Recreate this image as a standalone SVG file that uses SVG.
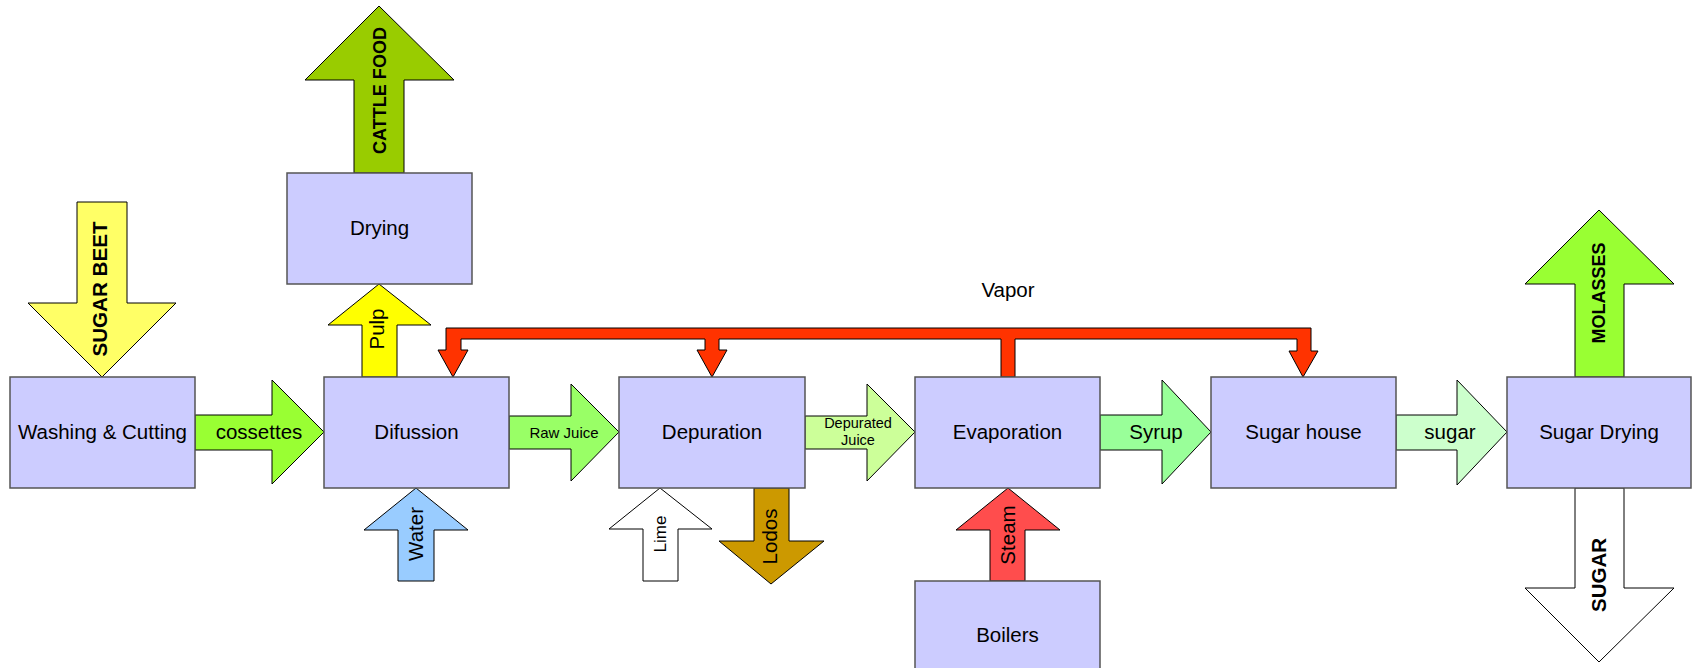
<svg xmlns="http://www.w3.org/2000/svg" width="1692" height="668" viewBox="0 0 1692 668">
  <style>
    .box { fill: #CCCCFF; stroke: #555555; stroke-width: 1.5; }
    .arr { stroke: #000000; stroke-width: 1; stroke-linejoin: miter; }
    .lbl { font-family: "Liberation Sans", Arial, sans-serif; font-size: 20.5px; fill: #000000; text-anchor: middle; }
    .sm { font-size: 15px; }
    .xs { font-size: 14.5px; }
    .bold { font-weight: bold; }
  </style>
  <rect width="1692" height="668" fill="#FFFFFF"/>

  <!-- flows between process units -->
  <g id="connectors">
    <!-- raw material in -->
    <polygon class="arr" fill="#FFFF66" points="77,202 127,202 127,303 176,303 102,377 28,303 77,303"/>
    <text class="lbl bold" transform="translate(107,289) rotate(-90)" textLength="135" lengthAdjust="spacingAndGlyphs">SUGAR BEET</text>

    <!-- cattle food out of drying -->
    <polygon class="arr" fill="#99CC00" points="379,6 454,80 404,80 404,173 354,173 354,80 305,80"/>
    <text class="lbl bold" style="font-size:18px" transform="translate(385.5,90.5) rotate(-90)" textLength="127" lengthAdjust="spacingAndGlyphs">CATTLE FOOD</text>

    <!-- pulp to drying -->
    <polygon class="arr" fill="#FFFF00" points="379,284 431,325 397,325 397,377 362,377 362,325 328,325"/>
    <text class="lbl" transform="translate(383.5,329) rotate(-90)">Pulp</text>

    <!-- horizontal process line -->
    <polygon class="arr" fill="#99FF33" points="195,415 272,415 272,380 324,432 272,484 272,450 195,450"/>
    <text class="lbl" x="259" y="439">cossettes</text>

    <polygon class="arr" fill="#99FF66" points="509,416 571,416 571,384 619,432 571,481 571,449 509,449"/>
    <text class="lbl sm" x="564" y="438">Raw Juice</text>

    <polygon class="arr" fill="#CCFF99" points="805,416 867,416 867,384 915,432 867,481 867,449 805,449"/>
    <text class="lbl xs" x="858" y="428">Depurated</text>
    <text class="lbl xs" x="858" y="445">Juice</text>

    <polygon class="arr" fill="#99FF99" points="1100,415 1162,415 1162,380 1211,432 1162,484 1162,450 1100,450"/>
    <text class="lbl" x="1156" y="439">Syrup</text>

    <polygon class="arr" fill="#CCFFCC" points="1396,415 1457,415 1457,380 1507,432 1457,485 1457,450 1396,450"/>
    <text class="lbl" x="1450" y="439">sugar</text>

    <!-- inputs and outputs below -->
    <polygon class="arr" fill="#99CCFF" points="416,488 468,530 434,530 434,581 398,581 398,530 364,530"/>
    <text class="lbl" transform="translate(423,534) rotate(-90)">Water</text>

    <polygon class="arr" fill="#FFFFFF" points="660,488 712,529 678,529 678,581 643,581 643,529 609,529"/>
    <text class="lbl" style="font-size:17px" transform="translate(666,534) rotate(-90)">Lime</text>

    <polygon class="arr" fill="#CC9900" points="754,488 789,488 789,541 824,541 771,584 719,541 754,541"/>
    <text class="lbl" transform="translate(777,536.5) rotate(-90)">Lodos</text>

    <polygon class="arr" fill="#FF4D4D" points="1008,488 1060,530 1025,530 1025,581 990,581 990,530 956,530"/>
    <text class="lbl" transform="translate(1014.5,535) rotate(-90)">Steam</text>

    <!-- final products -->
    <polygon class="arr" fill="#99FF33" points="1599,210 1674,284 1624,284 1624,377 1575,377 1575,284 1525,284"/>
    <text class="lbl bold" style="font-size:18px" transform="translate(1604.5,293) rotate(-90)" textLength="101" lengthAdjust="spacingAndGlyphs">MOLASSES</text>

    <polygon class="arr" fill="#FFFFFF" points="1575,488 1624,488 1624,588 1674,588 1599,662 1525,588 1575,588"/>
    <text class="lbl bold" transform="translate(1606,575) rotate(-90)" textLength="74" lengthAdjust="spacingAndGlyphs">SUGAR</text>

    <!-- vapor distribution header from evaporation -->
    <polygon class="arr" fill="#FF3300" points="446,328 1311,328 1311,351 1318,351 1303,377 1289,351 1297,351 1297,339 1015,339 1015,377 1001,377 1001,339 719,339 719,350 727,350 712,377 697,350 705,350 705,339 461,339 461,350 468,350 453,377 438,350 446,350"/>
    <text class="lbl" x="1008" y="297">Vapor</text>
  </g>

  <!-- process units -->
  <g id="washing">
    <rect class="box" x="10" y="377" width="185" height="111"/>
    <text class="lbl" x="102.5" y="439">Washing &amp; Cutting</text>
  </g>
  <g id="difussion">
    <rect class="box" x="324" y="377" width="185" height="111"/>
    <text class="lbl" x="416.5" y="439">Difussion</text>
  </g>
  <g id="drying">
    <rect class="box" x="287" y="173" width="185" height="111"/>
    <text class="lbl" x="379.5" y="235">Drying</text>
  </g>
  <g id="depuration">
    <rect class="box" x="619" y="377" width="186" height="111"/>
    <text class="lbl" x="712" y="439">Depuration</text>
  </g>
  <g id="evaporation">
    <rect class="box" x="915" y="377" width="185" height="111"/>
    <text class="lbl" x="1007.5" y="439">Evaporation</text>
  </g>
  <g id="boilers">
    <rect class="box" x="915" y="581" width="185" height="111"/>
    <text class="lbl" x="1007.5" y="642">Boilers</text>
  </g>
  <g id="sugar-house">
    <rect class="box" x="1211" y="377" width="185" height="111"/>
    <text class="lbl" x="1303.5" y="439">Sugar house</text>
  </g>
  <g id="sugar-drying">
    <rect class="box" x="1507" y="377" width="184" height="111"/>
    <text class="lbl" x="1599" y="439">Sugar Drying</text>
  </g>
</svg>
